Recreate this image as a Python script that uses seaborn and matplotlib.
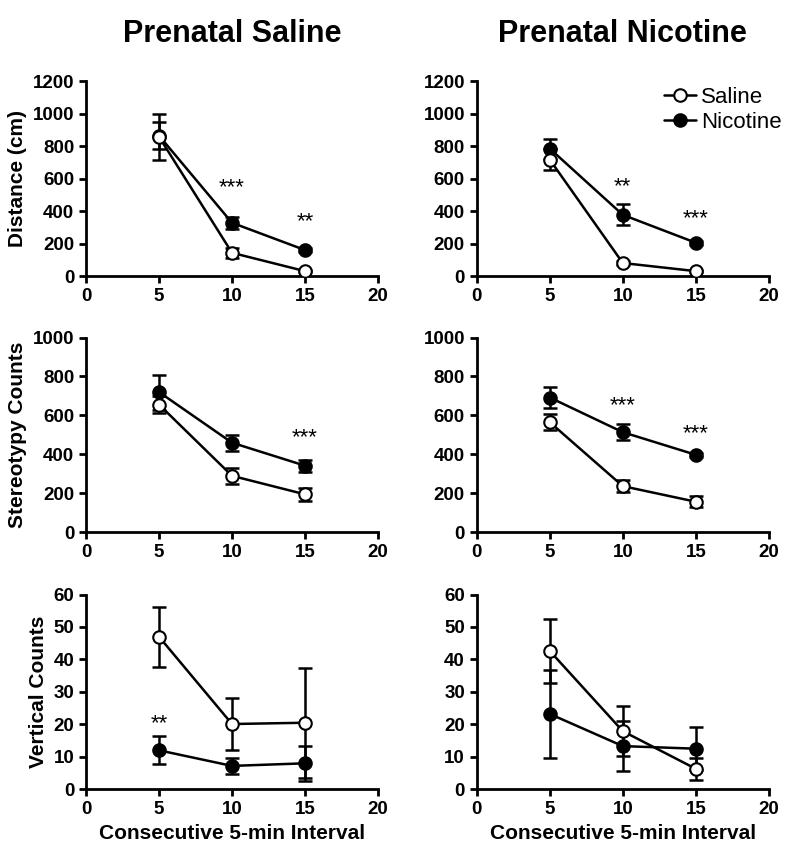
import numpy as np
import pandas as pd
import seaborn as sns
import matplotlib.pyplot as plt

# x positions (minutes)
intervals = [5, 10, 15]
groups = ['Saline', 'Nicotine']

# Distance (cm)
dist_ps_sal = [858, 143, 30]
dist_ps_sal_err = [143, 30, 8]
dist_ps_nic = [865, 328, 160]
dist_ps_nic_err = [83, 38, 10]
dist_pn_sal = [717, 80, 30]
dist_pn_sal_err = [65, 10, 8]
dist_pn_nic = [785, 377, 205]
dist_pn_nic_err = [62, 65, 12]

# Stereotypy counts
ster_ps_sal = [656, 290, 195]
ster_ps_sal_err = [45, 40, 35]
ster_ps_nic = [720, 460, 342]
ster_ps_nic_err = [90, 40, 30]
ster_pn_sal = [565, 237, 157]
ster_pn_sal_err = [40, 32, 28]
ster_pn_nic = [692, 514, 398]
ster_pn_nic_err = [52, 42, 10]

# Vertical counts
vert_ps_sal = [47.0, 20.1, 20.5]
vert_ps_sal_err = [9.3, 8.0, 17.0]
vert_ps_nic = [12.0, 7.2, 8.0]
vert_ps_nic_err = [4.3, 2.4, 5.4]
vert_pn_sal = [42.6, 17.9, 6.3]
vert_pn_sal_err = [9.8, 7.6, 3.4]
vert_pn_nic = [23.2, 13.3, 12.5]
vert_pn_nic_err = [13.5, 7.6, 6.7]

# significance stars: (x, y, text)
stars_dist_ps = [(10, 545, '***'), (15, 334, '**')]
stars_dist_pn = [(10, 553, '**'), (15, 355, '***')]
stars_ster_ps = [(15, 486, '***')]
stars_ster_pn = [(10, 651, '***'), (15, 506, '***')]
stars_vert_ps = [(5, 20.2, '**')]
stars_vert_pn = []

col_titles = ['Prenatal Saline', 'Prenatal Nicotine']
row_labels = ['Distance (cm)', 'Stereotypy Counts', 'Vertical Counts']
row_ylims = [1200, 1000, 60]
row_yticks = [np.arange(0, 1201, 200), np.arange(0, 1001, 200), np.arange(0, 61, 10)]
x_label = 'Consecutive 5-min Interval'

sns.set_style('ticks')
plt.rcParams['font.family'] = ['Liberation Sans', 'DejaVu Sans']
plt.rcParams['font.weight'] = 'bold'
for k in ['text.color', 'axes.labelcolor', 'xtick.color', 'ytick.color', 'axes.edgecolor']:
    plt.rcParams[k] = 'black'

panels = [
    [(dist_ps_sal, dist_ps_sal_err, dist_ps_nic, dist_ps_nic_err, stars_dist_ps),
     (dist_pn_sal, dist_pn_sal_err, dist_pn_nic, dist_pn_nic_err, stars_dist_pn)],
    [(ster_ps_sal, ster_ps_sal_err, ster_ps_nic, ster_ps_nic_err, stars_ster_ps),
     (ster_pn_sal, ster_pn_sal_err, ster_pn_nic, ster_pn_nic_err, stars_ster_pn)],
    [(vert_ps_sal, vert_ps_sal_err, vert_ps_nic, vert_ps_nic_err, stars_vert_ps),
     (vert_pn_sal, vert_pn_sal_err, vert_pn_nic, vert_pn_nic_err, stars_vert_pn)],
]

fig = plt.figure(figsize=(8, 8.58), dpi=100)
lefts = [0.1075, 0.596]
bottoms = [0.6783, 0.3796, 0.0801]
w, h = 0.365, 0.227

for r in range(3):
    for c in range(2):
        ax = fig.add_axes([lefts[c], bottoms[r], w, h])
        sal, sal_err, nic, nic_err, stars = panels[r][c]
        df = pd.DataFrame({
            'Interval': intervals * 2,
            'Value': sal + nic,
            'Group': ['Saline'] * 3 + ['Nicotine'] * 3,
        })
        # error bars first
        for vals, errs in [(nic, nic_err), (sal, sal_err)]:
            ax.errorbar(intervals, vals, yerr=errs, fmt='none', ecolor='black',
                        elinewidth=1.8, capsize=5, capthick=1.8, zorder=2)
        sns.lineplot(data=df[df.Group == 'Nicotine'], x='Interval', y='Value', ax=ax,
                     color='black', lw=1.8, marker='o', markersize=9,
                     markerfacecolor='black', markeredgecolor='black',
                     markeredgewidth=1.5, label='Nicotine', zorder=3)
        sns.lineplot(data=df[df.Group == 'Saline'], x='Interval', y='Value', ax=ax,
                     color='black', lw=1.8, marker='o', markersize=9,
                     markerfacecolor='white', markeredgecolor='black',
                     markeredgewidth=1.5, label='Saline', zorder=4)
        for sx, sy, st in stars:
            ax.text(sx, sy, st, ha='center', va='center', fontsize=16, fontweight='normal')

        ax.set_xlim(0, 20)
        ax.set_ylim(0, row_ylims[r])
        ax.set_xticks([0, 5, 10, 15, 20])
        ax.set_yticks(row_yticks[r])
        ax.tick_params(width=2, length=5, labelsize=13.5, direction='out')
        for lab in ax.get_xticklabels() + ax.get_yticklabels():
            lab.set_fontweight('bold')
        for s in ['left', 'bottom']:
            ax.spines[s].set_linewidth(2)
        sns.despine(ax=ax)
        ax.set_ylabel(row_labels[r] if c == 0 else '', fontsize=15, fontweight='bold')
        ax.set_xlabel(x_label if r == 2 else '', fontsize=15, fontweight='bold')
        if r == 0:
            ax.set_title(col_titles[c], fontsize=22, fontweight='bold', pad=28)
        leg = ax.get_legend()
        if r == 0 and c == 1:
            handles, labels = ax.get_legend_handles_labels()
            order = [labels.index('Saline'), labels.index('Nicotine')]
            ax.legend([handles[i] for i in order], [labels[i] for i in order],
                      loc='upper right', bbox_to_anchor=(1.09, 1.04), frameon=False,
                      prop={'size': 16, 'weight': 'normal'}, handlelength=1.4,
                      handletextpad=0.25, labelspacing=0.2, borderaxespad=0.2)
        elif leg is not None:
            leg.remove()

fig.savefig('out.png', dpi=100)
